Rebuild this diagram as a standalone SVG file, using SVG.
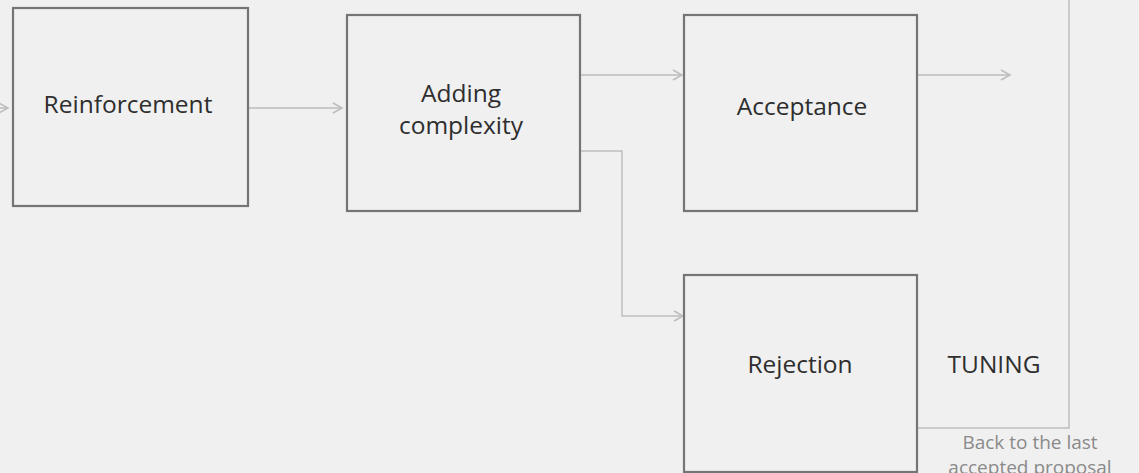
<svg xmlns="http://www.w3.org/2000/svg" width="1139" height="473" viewBox="0 0 1139 473">
<defs>
<style>
.box{fill:#f0f0f0;stroke:#757575;stroke-width:2.2}
.lbl{font-family:"Open Sans","Liberation Sans",sans-serif;font-size:24.5px;fill:#2e2e2e;text-anchor:middle}
.con{fill:none;stroke:#bdbdbd;stroke-width:1.5}
.note{font-family:"Open Sans","Liberation Sans",sans-serif;font-size:19px;fill:#8a8a8a;text-anchor:middle}
</style>
<marker id="ah" markerWidth="12" markerHeight="12" refX="10" refY="6" orient="auto" markerUnits="userSpaceOnUse">
<path d="M1,1 L10,6 L1,11" fill="none" stroke="#bdbdbd" stroke-width="1.5"/>
</marker>
</defs>
<rect width="1139" height="473" fill="#f0f0f0"/>
<g id="connectors">
<path class="con" d="M0,108 L8,108" marker-end="url(#ah)"/>
<path class="con" d="M248,108 L342,108" marker-end="url(#ah)"/>
<path class="con" d="M580,75 L682,75" marker-end="url(#ah)"/>
<path class="con" d="M917,75 L1010,75" marker-end="url(#ah)"/>
<path class="con" d="M580,151 L622,151 L622,316 L683,316" marker-end="url(#ah)"/>
<path class="con" d="M917,428 L1069,428 L1069,0"/>
</g>
<g id="reinforcement">
<rect class="box" x="13" y="8" width="235" height="198"/>
<text class="lbl" x="128" y="113">Reinforcement</text>
</g>
<g id="adding-complexity">
<rect class="box" x="347" y="15" width="233" height="196"/>
<text class="lbl" x="461" y="102">Adding</text>
<text class="lbl" x="461" y="134">complexity</text>
</g>
<g id="acceptance">
<rect class="box" x="684" y="15" width="233" height="196"/>
<text class="lbl" x="802" y="115">Acceptance</text>
</g>
<g id="rejection">
<rect class="box" x="684" y="275" width="233" height="197"/>
<text class="lbl" x="800" y="373">Rejection</text>
</g>
<g id="tuning">
<text class="lbl" x="994" y="373">TUNING</text>
</g>
<g id="back-note">
<text class="note" x="1030" y="449">Back to the last</text>
<text class="note" x="1030" y="474">accepted proposal</text>
</g>
</svg>
